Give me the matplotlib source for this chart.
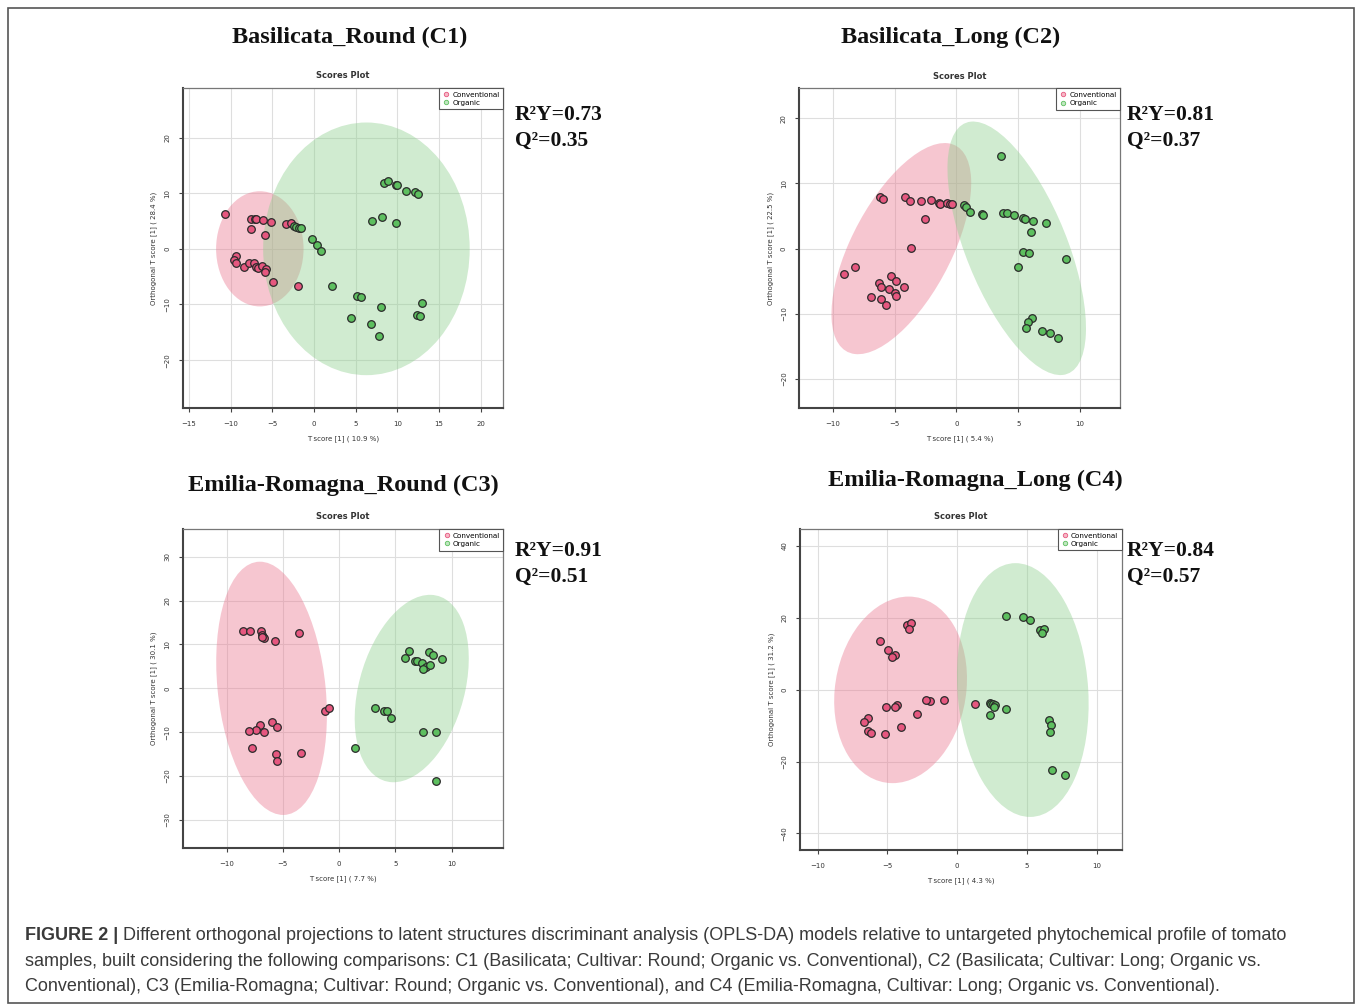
"""Four OPLS-DA scores plots (Organic vs Conventional tomato samples) in a 2x2 grid,
with each panel's R2Y/Q2 and the figure caption underneath."""

import matplotlib

matplotlib.use("Agg")
import matplotlib.pyplot as plt
import numpy as np
from matplotlib.lines import Line2D
from matplotlib.patches import Ellipse, Rectangle

FIG_W, FIG_H = 1357, 1005
CONV_FILL = "#e6577f"
ORG_FILL = "#5dbf5f"
CONV_ELLIPSE = "#ea7891"
ORG_ELLIPSE = "#8fd08f"
INK = "#222222"
CAPTION_INK = "#3a3a3a"

# ---- C1: Basilicata_Round ----
c1_conv_x = [-10.7, -7.5, -7.1, -6.9, -6.1, -5.1, -7.6, -5.9, -3.4, -2.8, -9.3, -9.6, -9.3, -8.4,
             -7.8, -7.2, -7.0, -6.7, -6.2, -5.7, -5.9, -4.9, -1.9]
c1_conv_y = [6.3, 5.4, 5.4, 5.4, 5.1, 4.9, 3.5, 2.4, 4.4, 4.7, -1.2, -2.0, -2.5, -3.3,
             -2.5, -2.6, -3.2, -3.4, -3.1, -3.7, -4.2, -5.9, -6.6]
c1_org_x = [-2.4, -2.1, -1.8, -1.5, -0.2, 0.4, 0.9, 2.2, 5.2, 5.6, 4.4, 6.8, 7.8, 8.0, 13.0,
            12.4, 12.7, 7.0, 8.2, 9.9, 8.4, 8.9, 9.8, 10.0, 11.1, 12.1, 12.5]
c1_org_y = [4.1, 4.0, 3.8, 3.7, 1.8, 0.6, -0.3, -6.7, -8.5, -8.7, -12.5, -13.5, -15.6, -10.4, -9.8,
            -11.9, -12.0, 5.0, 5.7, 4.6, 11.9, 12.1, 11.4, 11.4, 10.4, 10.2, 9.8]
# ellipse: centre x, centre y, half-width, half-height, correlation
c1_conv_ell = (-6.5, 0.0, 5.25, 10.35, 0.0)
c1_org_ell = (6.3, 0.0, 12.4, 22.7, 0.0)

# ---- C2: Basilicata_Long ----
c2_conv_x = [-6.17, -5.96, -4.15, -3.72, -2.86, -2.08, -1.43, -1.32, -0.78, -0.51, -0.35, -2.53,
             -3.67, -9.06, -8.19, -6.28, -6.09, -5.31, -4.88, -5.42, -4.23, -4.96, -4.91, -6.93,
             -6.09, -5.69]
c2_conv_y = [7.98, 7.57, 7.88, 7.31, 7.26, 7.47, 6.96, 6.85, 6.96, 6.85, 6.80, 4.50,
             0.05, -3.94, -2.81, -5.32, -5.93, -4.19, -5.01, -6.24, -5.83, -6.85, -7.26, -7.47,
             -7.72, -8.70]
c2_org_x = [0.59, 0.78, 1.11, 2.05, 2.13, 3.64, 3.75, 4.07, 4.66, 5.36, 5.55, 6.23, 7.25, 6.06,
            5.42, 5.90, 4.96, 8.84, 6.09, 5.77, 5.61, 6.90, 7.57, 8.25]
c2_org_y = [6.70, 6.34, 5.58, 5.27, 5.12, 14.2, 5.47, 5.42, 5.12, 4.65, 4.60, 4.30, 3.94, 2.51,
            -0.46, -0.72, -2.81, -1.59, -10.64, -11.20, -12.22, -12.63, -12.89, -13.76]
c2_conv_ell = (-4.45, 0.0, 5.65, 16.2, 0.62)
c2_org_ell = (4.88, 0.05, 5.6, 19.45, -0.63)

# ---- C3: Emilia-Romagna_Round ----
c3_conv_x = [-8.50, -7.91, -6.96, -6.87, -6.73, -6.67, -6.84, -5.72, -3.59, -1.21, -0.92, -5.96,
             -7.02, -5.54, -7.38, -8.03, -6.67, -7.76, -5.60, -5.54, -3.35]
c3_conv_y = [13.1, 13.1, 13.1, 12.2, 11.8, 11.5, 11.6, 10.7, 12.6, -5.1, -4.5, -7.7,
             -8.3, -8.7, -9.5, -9.8, -9.9, -13.6, -14.9, -16.6, -14.7]
c3_org_x = [6.25, 7.97, 8.33, 5.84, 6.73, 6.90, 7.35, 7.73, 8.09, 7.44, 9.19, 3.20, 4.03, 4.24,
            4.65, 1.45, 7.50, 8.62, 8.65]
c3_org_y = [8.6, 8.2, 7.7, 6.9, 6.3, 6.3, 5.7, 4.8, 5.2, 4.3, 6.6, -4.5, -5.2, -5.2,
            -6.8, -13.7, -9.9, -9.9, -21.1]
c3_conv_ell = (-6.0, 0.0, 4.92, 28.85, -0.21)
c3_org_ell = (6.46, -0.05, 5.07, 21.35, 0.32)

# ---- C4: Emilia-Romagna_Long ----
c4_conv_x = [-3.61, -3.32, -3.46, -5.52, -4.97, -4.44, -4.68, 1.24, -0.93, -1.94, -2.27, -2.89,
             -4.32, -4.44, -5.11, -4.04, -6.40, -6.71, -6.40, -6.16, -5.16]
c4_conv_y = [18.0, 18.6, 16.9, 13.6, 10.9, 9.7, 9.0, -3.9, -3.0, -3.2, -2.8, -6.7,
             -4.3, -4.8, -4.7, -10.4, -8.0, -9.1, -11.5, -12.0, -12.4]
c4_org_x = [3.51, 4.71, 5.19, 5.95, 6.24, 6.07, 2.32, 2.44, 2.60, 2.72, 2.65, 2.37, 3.51, 6.57,
            6.71, 6.67, 6.79, 7.72]
c4_org_y = [20.6, 20.2, 19.3, 16.5, 16.8, 15.7, -3.7, -4.1, -3.9, -4.3, -4.8, -7.1, -5.4, -8.5,
            -9.8, -11.8, -22.4, -23.8]
c4_conv_ell = (-4.06, -0.05, 4.76, 25.95, 0.12)
c4_org_ell = (4.70, -0.1, 4.72, 35.3, -0.11)

PANELS = [
    dict(title="Basilicata_Round (C1)", r2y="0.73", q2="0.35", x_pct="10.9", y_pct="28.4",
         conv=(c1_conv_x, c1_conv_y), org=(c1_org_x, c1_org_y), conv_ell=c1_conv_ell, org_ell=c1_org_ell,
         xlim=(-15.76, 22.7), ylim=(-28.6, 28.9), xticks=np.arange(-15, 21, 5), yticks=np.arange(-20, 21, 10),
         box=(182.7, 88, 503, 408), title_xy=(350, 37), stats_xy=(515, 115)),
    dict(title="Basilicata_Long (C2)", r2y="0.81", q2="0.37", x_pct="5.4", y_pct="22.5",
         conv=(c2_conv_x, c2_conv_y), org=(c2_org_x, c2_org_y), conv_ell=c2_conv_ell, org_ell=c2_org_ell,
         xlim=(-12.7, 13.23), ylim=(-24.5, 24.6), xticks=np.arange(-10, 11, 5), yticks=np.arange(-20, 21, 10),
         box=(799.3, 88.3, 1120, 408.3), title_xy=(951, 37), stats_xy=(1127, 115)),
    dict(title="Emilia-Romagna_Round (C3)", r2y="0.91", q2="0.51", x_pct="7.7", y_pct="30.1",
         conv=(c3_conv_x, c3_conv_y), org=(c3_org_x, c3_org_y), conv_ell=c3_conv_ell, org_ell=c3_org_ell,
         xlim=(-13.9, 14.6), ylim=(-36.45, 36.3), xticks=np.arange(-10, 11, 5), yticks=np.arange(-30, 31, 10),
         box=(182.7, 529, 503.3, 848.3), title_xy=(343, 485), stats_xy=(515, 551)),
    dict(title="Emilia-Romagna_Long (C4)", r2y="0.84", q2="0.57", x_pct="4.3", y_pct="31.2",
         conv=(c4_conv_x, c4_conv_y), org=(c4_org_x, c4_org_y), conv_ell=c4_conv_ell, org_ell=c4_org_ell,
         xlim=(-11.27, 11.79), ylim=(-44.6, 44.7), xticks=np.arange(-10, 11, 5), yticks=np.arange(-40, 41, 20),
         box=(800, 529, 1121.7, 850), title_xy=(975, 480), stats_xy=(1127, 551)),
]

CAPTION_BOLD = "FIGURE 2 | "
CAPTION_LINES = [
    "Different orthogonal projections to latent structures discriminant analysis (OPLS-DA) models "
    "relative to untargeted phytochemical profile of tomato",
    "samples, built considering the following comparisons: C1 (Basilicata; Cultivar: Round; Organic vs. "
    "Conventional), C2 (Basilicata; Cultivar: Long; Organic vs.",
    "Conventional), C3 (Emilia-Romagna; Cultivar: Round; Organic vs. Conventional), and C4 "
    "(Emilia-Romagna, Cultivar: Long; Organic vs. Conventional).",
]


def px_box(box):
    """(left, top, right, bottom) in figure pixels -> axes rect in figure fractions."""
    l, t, r, b = box
    return [l / FIG_W, 1 - b / FIG_H, (r - l) / FIG_W, (b - t) / FIG_H]


def confidence_ellipse(params, color):
    # params given as extents (half-width/half-height) plus correlation, turned into
    # the covariance-style axes the Ellipse patch wants
    cx, cy, sx, sy, rho = params
    cov = np.array([[sx * sx, rho * sx * sy], [rho * sx * sy, sy * sy]])
    vals, vecs = np.linalg.eigh(cov)
    order = vals.argsort()[::-1]
    vals, vecs = vals[order], vecs[:, order]
    angle = np.degrees(np.arctan2(vecs[1, 0], vecs[0, 0]))
    return Ellipse((cx, cy), 2 * np.sqrt(vals[0]), 2 * np.sqrt(vals[1]), angle=angle,
                   facecolor=color, edgecolor="none", alpha=0.42, zorder=1)


def draw_panel(fig, p):
    ax = fig.add_axes(px_box(p["box"]))
    ax.set_xlim(*p["xlim"])
    ax.set_ylim(*p["ylim"])
    ax.set_xticks(p["xticks"])
    ax.set_yticks(p["yticks"])
    ax.grid(True, color="#dedede", linewidth=0.8, zorder=0)
    ax.set_axisbelow(True)

    ax.add_patch(confidence_ellipse(p["conv_ell"], CONV_ELLIPSE))
    ax.add_patch(confidence_ellipse(p["org_ell"], ORG_ELLIPSE))
    ax.scatter(*p["conv"], s=30, facecolor=CONV_FILL, edgecolor="#2a2a2a", linewidth=0.9, zorder=3)
    ax.scatter(*p["org"], s=30, facecolor=ORG_FILL, edgecolor="#2a2a2a", linewidth=0.9, zorder=3)

    for side in ("top", "right"):
        ax.spines[side].set_color("#777777")
        ax.spines[side].set_linewidth(0.9)
    for side in ("left", "bottom"):
        ax.spines[side].set_color("#444444")
        ax.spines[side].set_linewidth(1.5)
    ax.tick_params(length=3, width=0.8, color="#444444", labelsize=5, labelcolor="#333333", pad=6)
    for lbl in ax.get_yticklabels():
        lbl.set_rotation(90)
        lbl.set_va("center")

    ax.set_xlabel(f"T score [1] ( {p['x_pct']} %)", fontsize=5, color="#333333", labelpad=6)
    ax.set_ylabel(f"Orthogonal T score [1] ( {p['y_pct']} %)", fontsize=5, color="#333333", labelpad=5)
    ax.set_title("Scores Plot", fontsize=6, fontweight="bold", color="#333333", pad=7)

    handles = [
        Line2D([], [], marker="o", linestyle="none", markersize=3.2, markerfacecolor="#f6b8c6",
               markeredgecolor=CONV_FILL, markeredgewidth=0.6, label="Conventional"),
        Line2D([], [], marker="o", linestyle="none", markersize=3.2, markerfacecolor="#bfe6bf",
               markeredgecolor=ORG_FILL, markeredgewidth=0.6, label="Organic"),
    ]
    leg = ax.legend(handles=handles, loc="upper right", fontsize=5.2, frameon=True, fancybox=False,
                    borderaxespad=0, handletextpad=0.3, handlelength=1.0, borderpad=0.5,
                    labelspacing=0.3, edgecolor="#555555", framealpha=1)
    leg.get_frame().set_linewidth(0.8)

    tx, ty = p["title_xy"]
    fig.text(tx / FIG_W, 1 - ty / FIG_H, p["title"], ha="center", va="center", fontsize=17.5,
             fontweight="bold", family="Liberation Serif", color="#111111")
    sx, sy = p["stats_xy"]
    fig.text(sx / FIG_W, 1 - sy / FIG_H, f"R\u00b2Y={p['r2y']}", ha="left", va="center", fontsize=15.5,
             fontweight="bold", family="Liberation Serif", color="#111111")
    fig.text(sx / FIG_W, 1 - (sy + 26) / FIG_H, f"Q\u00b2={p['q2']}", ha="left", va="center", fontsize=15.5,
             fontweight="bold", family="Liberation Serif", color="#111111")


def draw_caption(fig):
    fams = ["Liberation Sans Narrow", "Liberation Sans", "DejaVu Sans"]
    renderer = fig.canvas.get_renderer()
    ys = [936, 961, 986]
    head = fig.text(25 / FIG_W, 1 - ys[0] / FIG_H, CAPTION_BOLD, ha="left", va="center", fontsize=13,
                    fontweight="bold", family=fams, color=CAPTION_INK)
    head_w = head.get_window_extent(renderer).width
    for i, (line, y) in enumerate(zip(CAPTION_LINES, ys)):
        x = 25 + (head_w if i == 0 else 0)
        fig.text(x / FIG_W, 1 - y / FIG_H, line, ha="left", va="center", fontsize=13,
                 family=fams, color=CAPTION_INK)


def main():
    fig = plt.figure(figsize=(FIG_W / 100, FIG_H / 100), dpi=100, facecolor="white")
    fig.patches.append(Rectangle((8 / FIG_W, 1 - 1003 / FIG_H), 1346 / FIG_W, 995 / FIG_H,
                                 transform=fig.transFigure, fill=False, edgecolor="#555555",
                                 linewidth=1.2))
    for p in PANELS:
        draw_panel(fig, p)
    draw_caption(fig)
    fig.savefig("out.png", dpi=100, facecolor="white")
    plt.close(fig)


if __name__ == "__main__":
    main()
